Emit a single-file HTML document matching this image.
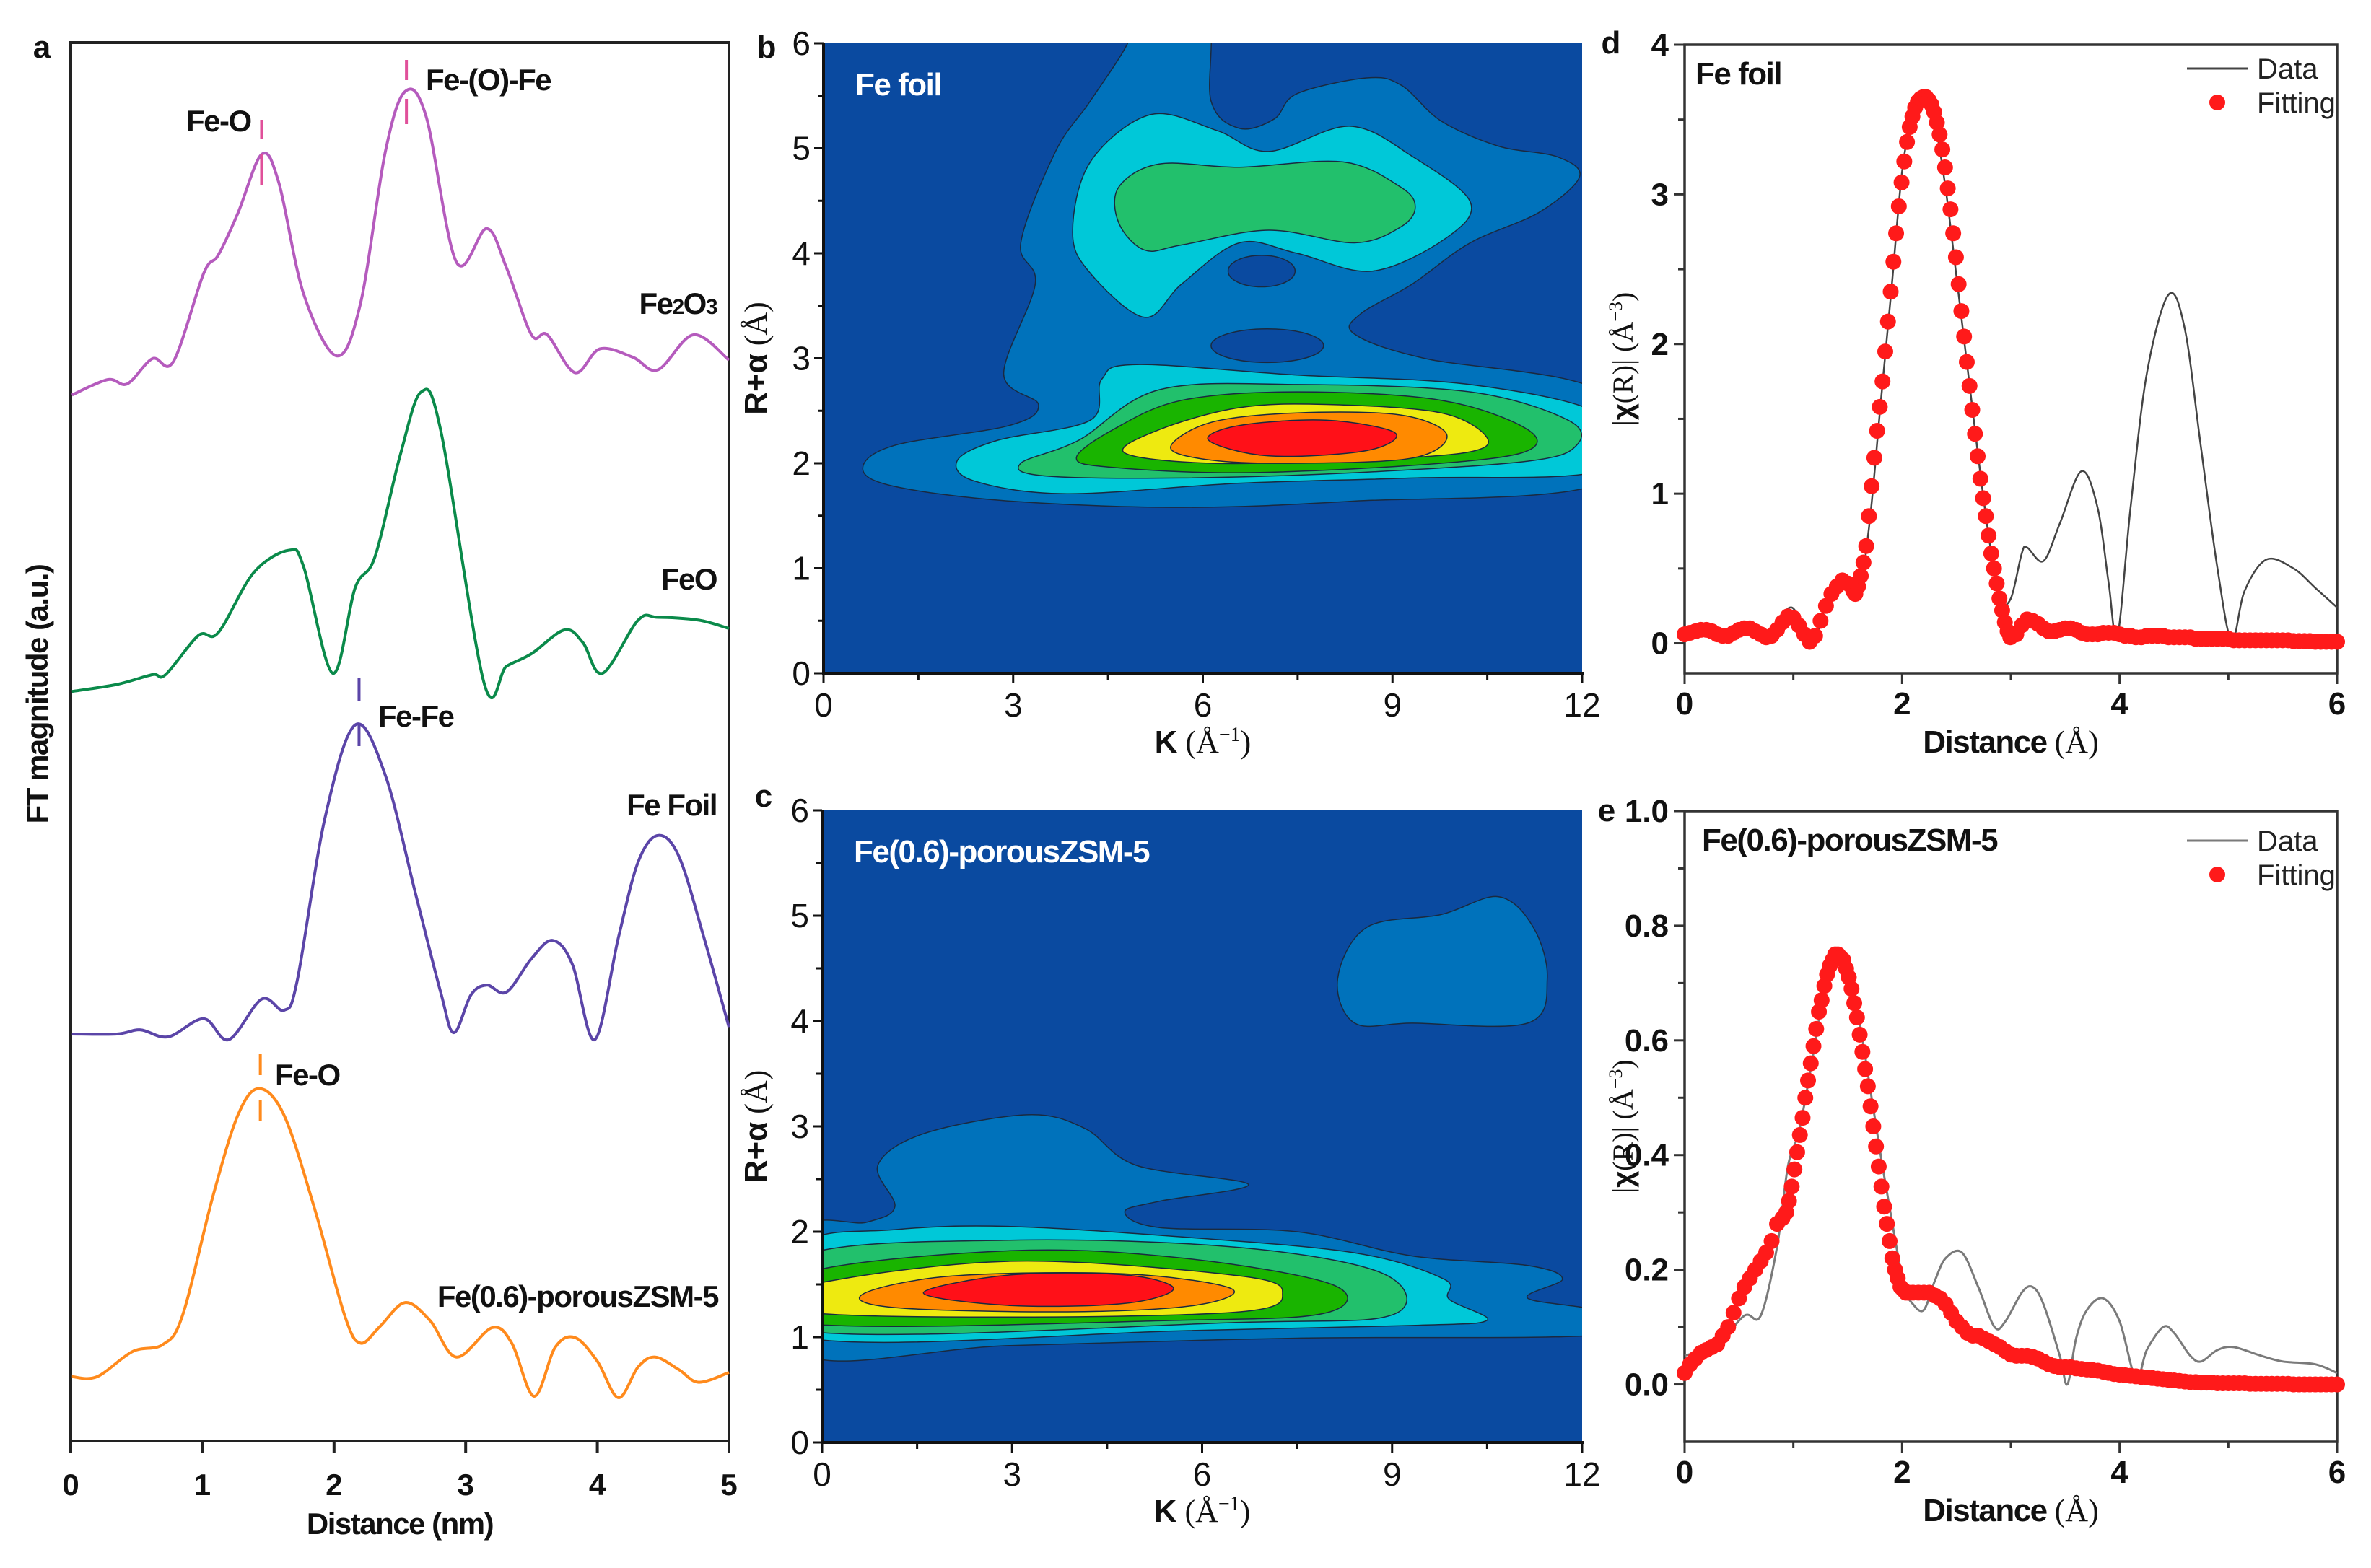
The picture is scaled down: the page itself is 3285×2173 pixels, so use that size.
<!DOCTYPE html>
<html><head><meta charset="utf-8"><style>
html,body{margin:0;padding:0;background:#fff;}
svg{display:block;font-family:"Liberation Sans",Arial,sans-serif;}
</style></head><body>
<svg id="fig" width="3285" height="2173" viewBox="0 0 3285 2173" xmlns="http://www.w3.org/2000/svg">
<defs>
<clipPath id="clipB"><rect x="1141" y="60" width="1051" height="873"/></clipPath>
<clipPath id="clipC"><rect x="1139" y="1123" width="1053" height="876"/></clipPath>
</defs>
</svg>
<script>
// ---------- Panel a data (distance nm, magnitude a.u.) ----------
const aFe2O3D=[0.01,0.28,0.43,0.62,0.78,1.01,1.12,1.27,1.45,1.58,1.77,2.02,2.20,2.39,2.54,2.70,2.93,3.16,3.31,3.50,3.62,3.83,4.02,4.27,4.46,4.73,5.0];
const aFe2O3V=[74.8,75.9,75.6,77.4,77.2,83.5,84.8,87.8,92.0,90.0,82.0,77.6,81.3,92.2,96.5,94.7,84.3,86.7,83.9,79.1,79.1,76.4,78.1,77.5,76.6,79.1,77.3];
const aFeOD=[0.01,0.35,0.62,0.72,0.97,1.12,1.39,1.66,1.77,1.99,2.16,2.31,2.50,2.66,2.81,3.14,3.31,3.50,3.75,3.89,4.04,4.31,4.46,4.77,5.0];
const aFeOV=[53.6,54.1,54.8,54.8,57.6,57.8,62.1,63.7,62.5,54.9,61.0,63.2,70.4,75.0,72.3,54.2,55.4,56.3,58.0,57.1,54.9,58.7,58.9,58.7,58.1];
const aFoilD=[0.01,0.35,0.53,0.74,1.01,1.20,1.45,1.62,1.72,1.93,2.16,2.39,2.62,2.81,2.91,3.04,3.16,3.31,3.50,3.66,3.81,3.98,4.16,4.31,4.46,4.62,4.81,5.0];
const aFoilV=[29.1,29.1,29.4,28.9,30.2,28.7,31.6,30.8,32.9,44.5,51.2,47.6,39.1,32.1,29.2,31.9,32.6,32.1,34.5,35.8,34.1,28.7,36.0,41.4,43.3,41.8,36.0,29.6];
const aZsmD=[0.01,0.20,0.47,0.70,0.85,1.08,1.27,1.43,1.62,1.85,2.08,2.20,2.35,2.54,2.73,2.93,3.20,3.35,3.52,3.68,3.83,4.00,4.16,4.31,4.44,4.62,4.77,5.0];
const aZsmV=[4.6,4.6,6.4,6.9,9.0,17.5,23.3,25.2,23.3,16.7,9.0,7.0,8.2,9.9,8.6,6.0,8.1,7.0,3.2,6.7,7.4,5.7,3.1,5.3,6.0,5.1,4.2,4.9];
const aTicks=[0,1,2,3,4,5];

// ---------- Panel b contours (K, R) ----------
const bLevel1=[[4.81,6],[4.22,5.45],[3.67,4.97],[3.12,4.1],[3.35,3.71],[2.85,2.85],[3.40,2.56],[2.94,2.36],[1.12,2.17],[0.62,1.95],[1.12,1.78],[2.94,1.64],[5.67,1.58],[8.40,1.64],[12.3,1.81],[12.3,2.68],[9.5,3.0],[8.40,3.23],[8.49,3.42],[9.32,3.71],[10.23,4.1],[11.32,4.39],[11.96,4.73],[11.6,4.92],[10.68,5.02],[9.77,5.26],[9.14,5.6],[8.59,5.67],[7.49,5.52],[7.13,5.28],[6.58,5.19],[6.13,5.45],[6.04,6.3],[4.9,6.3]];
const bHole1=[7.02,3.12,0.89,0.16];
const bHole2=[6.93,3.83,0.53,0.15];
const bCyanUp=[[5.08,3.39],[4.22,3.81],[3.94,4.2],[4.22,4.87],[5.17,5.32],[6.22,5.17],[7.04,4.97],[8.32,5.21],[9.32,4.92],[10.23,4.49],[9.86,4.15],[8.68,3.83],[7.49,4.0],[6.58,4.1],[5.67,3.71]];
const bGreenUp=[[5.08,4.03],[4.67,4.29],[4.67,4.63],[5.31,4.85],[6.58,4.82],[8.22,4.87],[9.13,4.63],[9.36,4.44],[9.13,4.25],[8.4,4.1],[7.04,4.22],[5.67,4.08]];
const bCyan=[[2.12,2.03],[2.76,2.22],[4.22,2.41],[4.4,2.8],[4.95,2.94],[7.49,2.84],[10.23,2.75],[12.3,2.46],[12.3,1.93],[9.32,1.86],[6.58,1.81],[3.85,1.71],[2.39,1.83]];
const bGreen1=[[3.12,2.0],[4.04,2.22],[5.31,2.7],[7.49,2.75],[10.23,2.68],[11.78,2.41],[11.91,2.17],[11.14,2.02],[8.4,1.91],[5.67,1.86],[3.49,1.88]];
const bGreen2=[[4.0,2.05],[4.58,2.32],[5.67,2.6],[7.49,2.68],[9.77,2.6],[11.14,2.32],[11.05,2.1],[9.32,1.98],[6.58,1.91],[4.58,1.96]];
const bYellow=[[4.76,2.1],[5.31,2.32],[6.58,2.53],[7.95,2.56],[9.77,2.48],[10.5,2.24],[10.14,2.1],[8.4,2.03],[6.13,2.0]];
const bOrange=[[5.49,2.15],[6.13,2.39],[7.49,2.48],[9.13,2.46],[9.86,2.27],[9.32,2.05],[7.49,2.0],[6.13,2.03]];
const bRed=[[6.09,2.22],[6.58,2.36],[7.95,2.41],[9.04,2.29],[8.59,2.12],[7.04,2.07]];

// ---------- Panel c contours ----------
const cLevel1=[[-0.3,2.0],[0.7,2.09],[1.15,2.24],[0.88,2.63],[1.6,2.93],[3.24,3.11],[4.15,2.98],[4.96,2.63],[6.73,2.45],[5.33,2.29],[4.78,2.19],[5.33,2.04],[7.5,2.0],[9.32,1.77],[11.14,1.68],[11.69,1.55],[11.14,1.37],[12.3,1.24],[12.3,1.02],[7.5,0.99],[2.97,0.92],[-0.3,0.84]];
const cUpper=[[8.14,4.4],[8.6,4.89],[9.77,5.01],[10.68,5.18],[11.23,4.89],[11.45,4.4],[11.14,3.98],[9.32,3.98],[8.41,3.98]];
const cCyan=[[-0.3,1.87],[1.15,2.02],[2.97,2.05],[5.69,1.95],[8.41,1.8],[9.82,1.55],[9.9,1.36],[10.5,1.16],[9.32,1.11],[5.69,1.06],[-0.3,1.0]];
const cGreen1=[[-0.3,1.77],[2.97,1.92],[6.6,1.85],[8.87,1.6],[9.0,1.21],[6.6,1.14],[-0.3,1.06]];
const cGreen2=[[-0.3,1.6],[2.97,1.82],[5.69,1.75],[8.05,1.5],[7.96,1.23],[5.69,1.16],[-0.3,1.13]];
const cYellow=[[-0.3,1.48],[2.97,1.72],[6.6,1.58],[7.27,1.41],[6.6,1.24],[2.97,1.19],[-0.3,1.24]];
const cOrange=[[0.65,1.41],[2.06,1.58],[4.78,1.6],[6.46,1.46],[5.87,1.3],[3.87,1.24],[1.15,1.28]];
const cRed=[[1.6,1.42],[2.97,1.59],[4.78,1.59],[5.55,1.46],[4.78,1.32],[2.97,1.3]];

// ---------- Panel d ----------
const dDataR=[0,0.2,0.4,0.55,0.75,0.98,1.17,1.3,1.45,1.6,1.7,1.8,1.9,2.0,2.1,2.2,2.3,2.4,2.5,2.6,2.7,2.8,2.9,3.0,3.1,3.15,3.3,3.45,3.65,3.8,3.9,3.98,4.1,4.25,4.45,4.6,4.75,4.9,5.03,5.15,5.35,5.6,5.8,6.0];
const dDataV=[0.06,0.09,0.05,0.1,0.04,0.24,0.0,0.25,0.42,0.35,0.8,1.58,2.35,3.15,3.55,3.65,3.48,3.04,2.45,1.85,1.25,0.7,0.3,0.3,0.6,0.64,0.55,0.8,1.15,0.9,0.4,0.05,0.9,1.8,2.33,2.1,1.3,0.5,0.02,0.35,0.56,0.5,0.37,0.24];
const dFitLowV=[0.06,0.07,0.08,0.09,0.09,0.08,0.06,0.05,0.05,0.07,0.09,0.10,0.10,0.08,0.06,0.04,0.05,0.09,0.14,0.18,0.17,0.12,0.06,0.01,0.05,0.15,0.25,0.33,0.38,0.42,0.40,0.35];
const dFitPeakV=[0.33,0.38,0.45,0.54,0.65,0.85,1.05,1.24,1.42,1.58,1.75,1.95,2.15,2.35,2.55,2.74,2.92,3.08,3.22,3.35,3.45,3.52,3.58,3.62,3.64,3.65,3.65,3.63,3.60,3.55,3.48,3.40,3.30,3.18,3.04,2.90,2.74,2.58,2.40,2.22,2.05,1.88,1.72,1.56,1.40,1.25,1.10,0.97,0.85,0.72,0.60,0.50,0.40,0.30,0.22,0.14,0.08,0.04];
const dFitHighV=[0.06,0.12,0.16,0.15,0.13,0.10,0.08,0.08,0.09,0.10,0.10,0.09,0.07,0.06,0.06,0.06,0.07,0.07,0.07,0.06,0.05,0.05,0.04,0.04,0.05,0.05,0.05,0.05,0.04,0.04,0.04,0.04,0.04,0.03,0.03,0.03,0.03,0.03,0.03,0.03,0.02,0.02,0.02,0.02,0.02,0.02,0.02,0.02,0.02,0.02,0.02,0.015,0.015,0.015,0.015,0.01,0.01,0.01,0.01,0.01];

// ---------- Panel e ----------
const eDataR=[0,0.3,0.55,0.7,0.85,0.95,1.05,1.15,1.25,1.35,1.42,1.52,1.62,1.72,1.82,1.92,2.02,2.1,2.2,2.3,2.4,2.55,2.7,2.85,2.95,3.1,3.2,3.3,3.45,3.52,3.6,3.7,3.85,4.0,4.15,4.25,4.4,4.5,4.65,4.75,4.9,5.05,5.3,5.5,5.8,6.0];
const eDataV=[0.05,0.07,0.12,0.12,0.24,0.38,0.44,0.54,0.65,0.73,0.75,0.72,0.62,0.5,0.38,0.27,0.17,0.14,0.13,0.18,0.22,0.23,0.17,0.10,0.11,0.16,0.17,0.14,0.05,0.0,0.08,0.13,0.15,0.11,0.01,0.06,0.10,0.09,0.05,0.04,0.06,0.065,0.05,0.04,0.035,0.02];
const eFitLowV=[0.02,0.035,0.045,0.055,0.06,0.065,0.07,0.085,0.10,0.125,0.15,0.17,0.185,0.20,0.215,0.23,0.25,0.28,0.29];
const eFitPeakV=[0.30,0.32,0.345,0.375,0.405,0.435,0.465,0.50,0.53,0.56,0.59,0.62,0.65,0.67,0.695,0.715,0.73,0.74,0.75,0.75,0.745,0.74,0.725,0.71,0.69,0.665,0.64,0.61,0.58,0.55,0.52,0.485,0.45,0.415,0.38,0.345,0.31,0.28,0.25,0.22,0.20,0.185,0.17,0.165,0.16,0.16];
const eFitHighV=[0.16,0.16,0.16,0.16,0.155,0.15,0.14,0.125,0.11,0.10,0.09,0.085,0.085,0.08,0.075,0.07,0.065,0.058,0.052,0.05,0.05,0.05,0.048,0.045,0.04,0.035,0.032,0.03,0.03,0.03,0.028,0.027,0.026,0.025,0.024,0.022,0.02,0.018,0.017,0.016,0.015,0.014,0.013,0.012,0.011,0.01,0.009,0.008,0.007,0.006,0.005,0.004,0.004,0.003,0.003,0.003,0.002,0.002,0.002,0.002,0.002,0.002,0.001,0.001,0.001,0.001,0.001,0.001,0.001,0.001,0.0,0.0,0.0,0.0,0.0,0.0,0.0,0.0,0.0];

const NS="http://www.w3.org/2000/svg";
const svg=document.getElementById('fig');
function lin(d0,d1,p0,p1){return v=>p0+(v-d0)/(d1-d0)*(p1-p0);}
function mk(tag,attrs,parent){const e=document.createElementNS(NS,tag);for(const k in attrs)e.setAttribute(k,attrs[k]);(parent||svg).appendChild(e);return e;}
function txt(s,x,y,opt,parent){const e=mk('text',Object.assign({x:x,y:y},opt||{}),parent);e.textContent=s;return e;}
function smooth(pts,closed){
  const n=pts.length;let d='M'+pts[0][0].toFixed(1)+','+pts[0][1].toFixed(1);
  const seg=closed?n:n-1;
  for(let i=0;i<seg;i++){
    const p0=pts[closed?(i-1+n)%n:Math.max(i-1,0)],p1=pts[i],p2=pts[(i+1)%n],p3=pts[closed?(i+2)%n:Math.min(i+2,n-1)];
    const c1=[p1[0]+(p2[0]-p0[0])/6,p1[1]+(p2[1]-p0[1])/6],c2=[p2[0]-(p3[0]-p1[0])/6,p2[1]-(p3[1]-p1[1])/6];
    d+='C'+c1[0].toFixed(1)+','+c1[1].toFixed(1)+' '+c2[0].toFixed(1)+','+c2[1].toFixed(1)+' '+p2[0].toFixed(1)+','+p2[1].toFixed(1);
  }
  return d+(closed?'Z':'');
}

// ================= Panel a =================
const xa=lin(0,5,98,1010), ya=lin(0,100,1997,59);
const ga=mk('g',{});


const fa=mk('rect',{x:98,y:59,width:912,height:1938,fill:'none',stroke:'#222','stroke-width':4},ga);


aTicks.forEach(t=>{
  const l=mk('line',{x1:xa(t),x2:xa(t),y1:1997,y2:2013,stroke:'#222','stroke-width':4},ga);
  
  
  const tl=txt(String(t),xa(t),2072,{'font-size':42,'font-weight':'bold','text-anchor':'middle',fill:'#111'},ga);
  
  
});
const curvesA=[[aFe2O3D,aFe2O3V,'#b55bbd','fe2o3-curve'],[aFeOD,aFeOV,'#0a8a4a','feo-curve'],[aFoilD,aFoilV,'#5b45a8','fe-foil-curve'],[aZsmD,aZsmV,'#ff8a1c','porous-zsm5-curve']];
curvesA.forEach(c=>{
  const pts=c[0].map((d,i)=>[xa(d),ya(c[1][i])]);
  const p=mk('path',{d:smooth(pts,false),fill:'none',stroke:c[2],'stroke-width':4},ga);
  
  
});
[[1.45,166,193,214,256,'#e0509a'],[2.55,83,111,137,172,'#e0509a'],[2.19,940,971,1004,1034,'#5b45a8'],[1.44,1460,1490,1524,1554,'#ff8a1c']].forEach(m=>{
  [[m[1],m[2]],[m[3],m[4]]].forEach(s=>{
    const l=mk('line',{x1:xa(m[0]),x2:xa(m[0]),y1:s[0],y2:s[1],stroke:m[5],'stroke-width':4},ga);
    
    
  });
});
const LA={'font-size':42,'font-weight':'bold',fill:'#111','letter-spacing':-1.5};
[['Fe-O',258,182,'start','label-fe-o'],['Fe-(O)-Fe',590,125,'start','label-fe-o-fe'],['FeO',993,817,'end','label-feo'],['Fe-Fe',524,1007,'start','label-fe-fe'],['Fe Foil',993,1130,'end','label-fe-foil'],['Fe-O',381,1504,'start','label-fe-o-zsm'],['Fe(0.6)-porousZSM-5',995,1811,'end','label-porous-zsm5']].forEach(l=>{
  const t=txt(l[0],l[1],l[2],Object.assign({'text-anchor':l[3]},LA),ga);
  
  
});
{const t=mk('text',Object.assign({x:993,y:435,'text-anchor':'end'},LA),ga);


t.innerHTML='Fe<tspan font-size="30">2</tspan>O<tspan font-size="30">3</tspan>';}
{const t=txt('Distance (nm)',554,2126,{'font-size':42,'font-weight':'bold','text-anchor':'middle',fill:'#111','letter-spacing':-1.5},ga);


const y=txt('FT magnitude (a.u.)',0,0,{'font-size':42,'font-weight':'bold','text-anchor':'middle',fill:'#111','letter-spacing':-1.5,transform:'translate(66,962) rotate(-90)'},ga);


const pl=txt('a',58,80,{'font-size':44,'font-weight':'bold','text-anchor':'middle',fill:'#111'},ga);

}

// ================= Contour panels =================
const COL=['#0a4aa0','#0072bb','#00c8d8','#22c06c','#19b400','#eeea10','#ff8a00','#ff1018'];
function contourPanel(name,x0,x1,y0,y1,clip,layers,holes,label,letter,letterPos){
  const xs=lin(0,12,x0,x1), ys=lin(0,6,y1,y0);
  const g=mk('g',{});
  
  
  const cg=mk('g',{'clip-path':'url(#'+clip+')'},g);
  const bg=mk('rect',{x:x0,y:y0,width:x1-x0,height:y1-y0,fill:COL[0]},cg);
  
  
  layers.forEach(L=>{
    const pts=L[0].map(p=>[xs(p[0]),ys(p[1])]);
    const p=mk('path',{d:smooth(pts,true),fill:COL[L[1]],stroke:'#1a2a40','stroke-width':1.5},cg);
    
    
    if(L[2]){(L[2]).forEach(h=>{
      const e=mk('ellipse',{cx:xs(h[0]),cy:ys(h[1]),rx:xs(h[2])-xs(0),ry:ys(0)-ys(h[3]),fill:COL[0],stroke:'#1a2a40','stroke-width':1.5},cg);
      
      
    });}
  });
  const ax=mk('line',{x1:x0-2,x2:x1+2,y1:y1,y2:y1,stroke:'#111','stroke-width':4},g);
  
  
  const ay=mk('line',{x1:x0,x2:x0,y1:y0,y2:y1+2,stroke:'#111','stroke-width':4},g);
  
  
  [0,1.5,3,4.5,6,7.5,9,10.5,12].forEach((t,i)=>{
    const l=mk('line',{x1:xs(t),x2:xs(t),y1:y1,y2:y1+(i%2?9:14),stroke:'#111','stroke-width':3},g);
    
    
    if(i%2===0){const tl=txt(String(t),xs(t),y1+60,{'font-size':46,'text-anchor':'middle',fill:'#111'},g);
      
      }
  });
  for(let k=0;k<=12;k++){const t=k/2;
    const l=mk('line',{x1:x0,x2:x0-(k%2?8:13),y1:ys(t),y2:ys(t),stroke:'#111','stroke-width':3},g);
    
    
    if(k%2===0){const tl=txt(String(t),x0-18,ys(t)+16,{'font-size':46,'text-anchor':'end',fill:'#111'},g);
      
      }
  }
  const xt=mk('text',{x:(x0+x1)/2,y:y1+110,'font-size':44,'text-anchor':'middle',fill:'#111'},g);
  
  
  xt.innerHTML='<tspan font-weight="bold">K</tspan><tspan font-family="Liberation Serif, serif"> (Å</tspan><tspan font-family="Liberation Serif, serif" font-size="28" dy="-16">−1</tspan><tspan font-family="Liberation Serif, serif" dy="16">)</tspan>';
  const yt=mk('text',{x:0,y:0,'font-size':44,'text-anchor':'middle',fill:'#111',transform:'translate(1062,'+((y0+y1)/2)+') rotate(-90)'},g);
  
  
  yt.innerHTML='<tspan font-weight="bold">R+α</tspan><tspan font-family="Liberation Serif, serif"> (Å)</tspan>';
  const lt=txt(label,x0+44,y0+72,{'font-size':44,'font-weight':'bold',fill:'#fff','letter-spacing':-1.5},g);
  
  
  const pl=txt(letter,letterPos[0],letterPos[1],{'font-size':44,'font-weight':'bold','text-anchor':'middle',fill:'#111'},g);
  
  
}
contourPanel('panel-b',1141,2192,60,933,'clipB',
  [[bLevel1,1,[bHole1,bHole2]],[bCyanUp,2],[bGreenUp,3],[bCyan,2],[bGreen1,3],[bGreen2,4],[bYellow,5],[bOrange,6],[bRed,7]],null,'Fe foil','b',[1062,80]);
contourPanel('panel-c',1139,2192,1123,1999,'clipC',
  [[cLevel1,1],[cUpper,1],[cCyan,2],[cGreen1,3],[cGreen2,4],[cYellow,5],[cOrange,6],[cRed,7]],null,'Fe(0.6)-porousZSM-5','c',[1058,1118]);

// ================= Fit panels =================
function fitPanel(name,y0,y1,vmin,vmax,yticks,yminor,fmt,dataR,dataV,dataCol,dataW,fitSets,title,letter,letterPos,legY){
  const xs=lin(0,6,2334,3238);
  const ys=lin(vmin,vmax,y1,y0);
  const g=mk('g',{});
  
  
  const fr=mk('rect',{x:2334,y:y0,width:904,height:y1-y0,fill:'none',stroke:'#333','stroke-width':3.5},g);
  
  
  [0,1,2,3,4,5,6].forEach(t=>{
    const l=mk('line',{x1:xs(t),x2:xs(t),y1:y1,y2:y1+(t%2?9:15),stroke:'#333','stroke-width':3},g);
    
    
    if(t%2===0){const tl=txt(String(t),xs(t),y1+57,{'font-size':44,'font-weight':'bold','text-anchor':'middle',fill:'#111'},g);
      
      }
  });
  yminor.forEach(t=>{
    const l=mk('line',{x1:2334,x2:2325,y1:ys(t),y2:ys(t),stroke:'#333','stroke-width':3},g);
    
    
  });
  yticks.forEach(t=>{
    const l=mk('line',{x1:2334,x2:2319,y1:ys(t),y2:ys(t),stroke:'#333','stroke-width':3},g);
    
    
    const tl=txt(fmt(t),2312,ys(t)+15,{'font-size':44,'font-weight':'bold','text-anchor':'end',fill:'#111'},g);
    
    
  });
  const dpts=dataR.map((r,i)=>[xs(r),ys(dataV[i])]);
  const dp=mk('path',{d:smooth(dpts,false),fill:'none',stroke:dataCol,'stroke-width':dataW},g);
  
  
  const fg=mk('g',{fill:'#ff1a1a'},g);
  
  
  fitSets.forEach(fs=>{fs[2].forEach((v,i)=>{
    const c=mk('circle',{cx:xs(fs[0]+i*fs[1]),cy:ys(v),r:11},fg);
    
    
  });});
  const xt=mk('text',{x:2786,y:y1+110,'font-size':44,'text-anchor':'middle',fill:'#111'},g);
  
  
  xt.innerHTML='<tspan font-weight="bold" letter-spacing="-1.5">Distance</tspan><tspan font-family="Liberation Serif, serif"> (Å)</tspan>';
  const yt=mk('text',{x:0,y:0,'font-size':40,'text-anchor':'middle',fill:'#111',transform:'translate(2262,'+((y0+y1)/2)+') rotate(-90)'},g);
  
  
  yt.innerHTML='<tspan font-family="Liberation Serif, serif">|</tspan><tspan font-weight="bold">χ</tspan><tspan font-family="Liberation Serif, serif">(R)| (Å</tspan><tspan font-family="Liberation Serif, serif" font-size="26" dy="-15">−3</tspan><tspan font-family="Liberation Serif, serif" dy="15">)</tspan>';
  const tt=txt(title,title.length>10?2358:2349,y0+55,{'font-size':44,'font-weight':'bold',fill:'#111','letter-spacing':-1.5},g);
  
  
  const lg=mk('g',{},g);
  
  
  const ll=mk('line',{x1:3030,x2:3115,y1:legY,y2:legY,stroke:dataCol,'stroke-width':3},lg);
  
  
  const l1=txt('Data',3127,legY+14,{'font-size':40,fill:'#222'},lg);
  
  
  const lc=mk('circle',{cx:3072,cy:legY+47,r:11,fill:'#ff1a1a'},lg);
  
  
  const l2=txt('Fitting',3127,legY+61,{'font-size':40,fill:'#222'},lg);
  
  
  const pl=txt(letter,letterPos[0],letterPos[1],{'font-size':44,'font-weight':'bold','text-anchor':'middle',fill:'#111'},g);
  
  
}
fitPanel('panel-d',62,933,-0.2,4,[0,1,2,3,4],[0.5,1.5,2.5,3.5],t=>String(t),dDataR,dDataV,'#444',2.5,
  [[0,0.05,dFitLowV],[1.57,0.025,dFitPeakV],[3.05,0.05,dFitHighV]],'Fe foil','d',[2232,74],95);
fitPanel('panel-e',1124,1998,-0.1,1.0,[0,0.2,0.4,0.6,0.8,1.0],[0.1,0.3,0.5,0.7,0.9],t=>t.toFixed(1),eDataR,eDataV,'#7a7a7a',3,
  [[0,0.05,eFitLowV],[0.935,0.025,eFitPeakV],[2.1,0.05,eFitHighV]],'Fe(0.6)-porousZSM-5','e',[2226,1138],1165);
</script>
</body></html>
